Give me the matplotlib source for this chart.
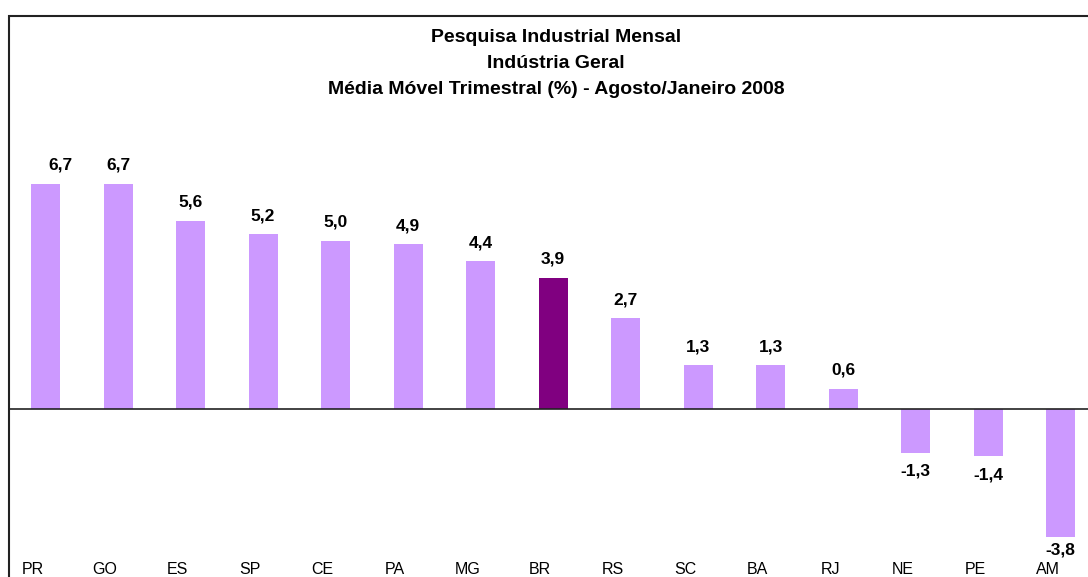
import matplotlib.pyplot as plt
import matplotlib.transforms as mtransforms
from matplotlib.patches import Rectangle

plt.rcParams['font.family'] = ['Liberation Sans', 'DejaVu Sans']

# dados
estados = ['PR', 'GO', 'ES', 'SP', 'CE', 'PA', 'MG', 'BR', 'RS', 'SC', 'BA', 'RJ', 'NE', 'PE', 'AM']
valores = [6.7, 6.7, 5.6, 5.2, 5.0, 4.9, 4.4, 3.9, 2.7, 1.3, 1.3, 0.6, -1.3, -1.4, -3.8]
rotulos = ['6,7', '6,7', '5,6', '5,2', '5,0', '4,9', '4,4', '3,9', '2,7', '1,3', '1,3', '0,6', '-1,3', '-1,4', '-3,8']
titulo = ['Pesquisa Industrial Mensal', 'Indústria Geral',
          'Média Móvel Trimestral (%) - Agosto/Janeiro 2008']

W, H = 1088, 577
fig = plt.figure(figsize=(W / 100, H / 100), dpi=100)
ax = fig.add_axes([0, 17 / H, 1, 1 - 17 / H])

x = list(range(len(estados)))
cores = ['#800080' if e == 'BR' else '#CC99FF' for e in estados]
ax.bar(x, valores, width=0.4, color=cores, zorder=2)

# linha do zero
ax.axhline(0, xmin=9 / W, xmax=1, color='#222222', lw=1.2, zorder=3)

for i, (v, r) in enumerate(zip(valores, rotulos)):
    dx = 11 if i == 0 else 0  # o excel desloca o primeiro rotulo
    if v >= 0:
        ax.annotate(r, (i, v), xytext=(dx, 8), textcoords='offset points',
                    ha='center', va='bottom', fontsize=12.5, fontweight='bold')
    else:
        dy = -4 if estados[i] == 'AM' else -8
        ax.annotate(r, (i, v), xytext=(dx, dy), textcoords='offset points',
                    ha='center', va='top', fontsize=12.5, fontweight='bold')

ax.set_xlim(-45.5 / 72.5, (W - 45.5) / 72.5)
ax.set_ylim(-(560 - 409) / 33.6, 409 / 33.6)
ax.set_xticks(x)
ax.set_xticklabels(estados, fontsize=11.5)
ax.tick_params(axis='x', length=0, pad=1.5)
# rotulos do eixo x ficam um pouco a esquerda das barras
desloc = mtransforms.ScaledTranslation(-13 / 100, 0, fig.dpi_scale_trans)
for lb in ax.get_xticklabels():
    lb.set_transform(lb.get_transform() + desloc)
ax.set_yticks([])
for s in ax.spines.values():
    s.set_visible(False)

# moldura (cortada a direita e embaixo)
fig.patches.append(Rectangle((9 / W, -0.1), 1.2, 1.1 - 16 / H, transform=fig.transFigure,
                             fill=False, lw=1.5, edgecolor='#222222'))

for t, yy in zip(titulo, [38, 63, 90]):
    fig.text(556 / W, 1 - yy / H, t, ha='center', va='center', fontsize=14, fontweight='bold')

fig.savefig('out.png', dpi=100)
